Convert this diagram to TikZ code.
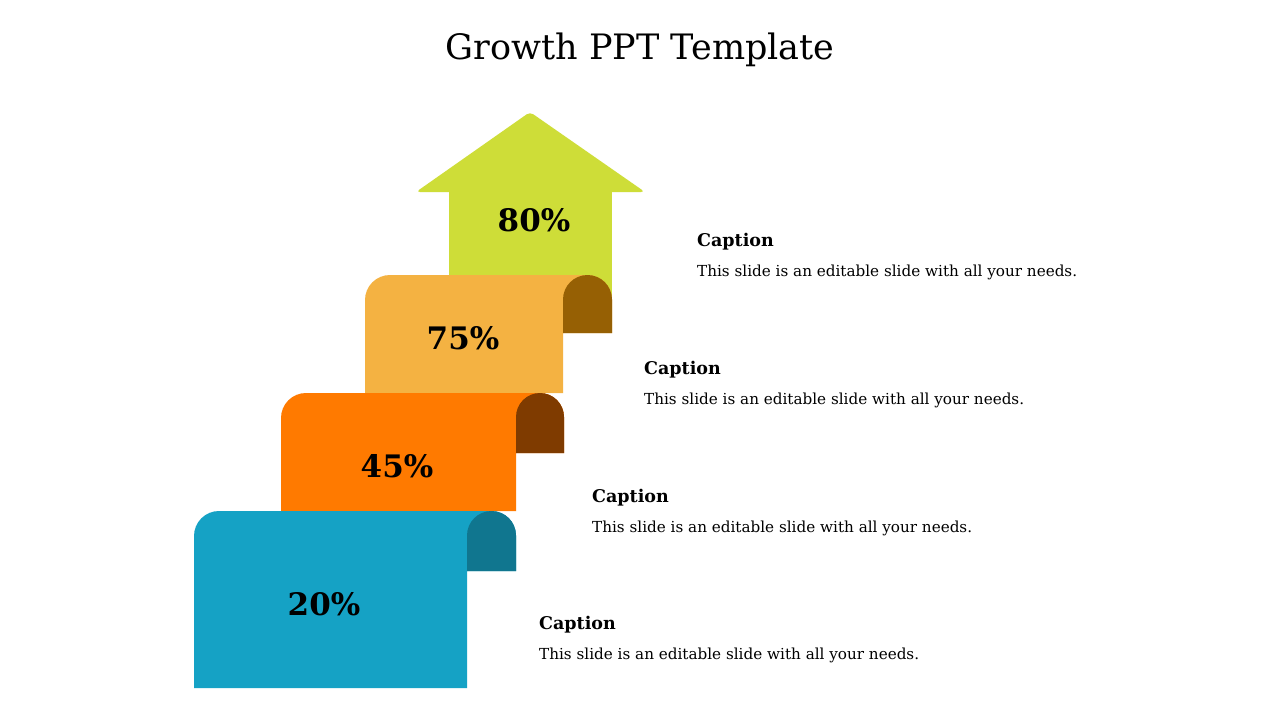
\documentclass[tikz,border=0pt]{standalone}
\usepackage{fontspec}
\setmainfont{DejaVu Serif}
\definecolor{cblue}{HTML}{15A2C5}
\definecolor{cblued}{HTML}{10768F}
\definecolor{corange}{HTML}{FF7A00}
\definecolor{corangd}{HTML}{7F3B00}
\definecolor{clight}{HTML}{F4B242}
\definecolor{clightd}{HTML}{966004}
\definecolor{cgreen}{HTML}{CEDD38}
\begin{document}
\begin{tikzpicture}[x=1pt,y=-1pt,
  pct/.style={font=\fontsize{31}{31}\selectfont\bfseries, text=black, inner sep=0},
  caphead/.style={font=\fontsize{17.5}{18}\selectfont\bfseries, anchor=base west, inner sep=0},
  captext/.style={font=\fontsize{15.2}{18}\selectfont, anchor=base west, inner sep=0},
  ]
\useasboundingbox (0,0) rectangle (1280,720);
\fill[white] (0,0) rectangle (1280,720);
\node[font=\fontsize{35}{40}\selectfont, anchor=base, inner sep=0] (title) at (640,59) {Growth PPT Template};
% arrow (green)
\fill[cgreen, rounded corners=4] (416,192) -- (530,112) -- (645,192) -- cycle;
\fill[cgreen] (449,190) rectangle (612,300);
% light orange layer
\fill[clight] (365,393) -- (365,300) arc[start angle=180,end angle=270,radius=25] -- (587.5,275) arc[start angle=270,end angle=360,radius=24.5] -- (612,333) -- (563,333) -- (563,393) -- cycle;
\fill[clightd] (563,333) -- (563,299.5) arc[start angle=180,end angle=360,radius=24.5] -- (612,333) -- cycle;
% orange layer
\fill[corange] (281,511) -- (281,418) arc[start angle=180,end angle=270,radius=25] -- (540,393) arc[start angle=270,end angle=360,radius=24] -- (564,453) -- (516,453) -- (516,511) -- cycle;
\fill[corangd] (516,453) -- (516,417) arc[start angle=180,end angle=360,radius=24] -- (564,453) -- cycle;
% blue layer
\fill[cblue] (194,688) -- (194,536) arc[start angle=180,end angle=270,radius=25] -- (491.5,511) arc[start angle=270,end angle=360,radius=24.5] -- (516,571) -- (467,571) -- (467,688) -- cycle;
\fill[cblued] (467,571) -- (467,535.5) arc[start angle=180,end angle=360,radius=24.5] -- (516,571) -- cycle;
% percentages
\node[pct] (p80) at (534,220) {80\%};
\node[pct] (p75) at (463,338) {75\%};
\node[pct] (p45) at (397,466) {45\%};
\node[pct] (p20) at (324,604) {20\%};
% captions
\node[caphead] (c1h) at (697,246) {Caption};
\node[captext] (c1t) at (697,276) {This slide is an editable slide with all your needs.};
\node[caphead] (c2h) at (644,374) {Caption};
\node[captext] (c2t) at (644,404) {This slide is an editable slide with all your needs.};
\node[caphead] (c3h) at (592,502) {Caption};
\node[captext] (c3t) at (592,532) {This slide is an editable slide with all your needs.};
\node[caphead] (c4h) at (539,629) {Caption};
\node[captext] (c4t) at (539,659) {This slide is an editable slide with all your needs.};
\end{tikzpicture}
\end{document}
